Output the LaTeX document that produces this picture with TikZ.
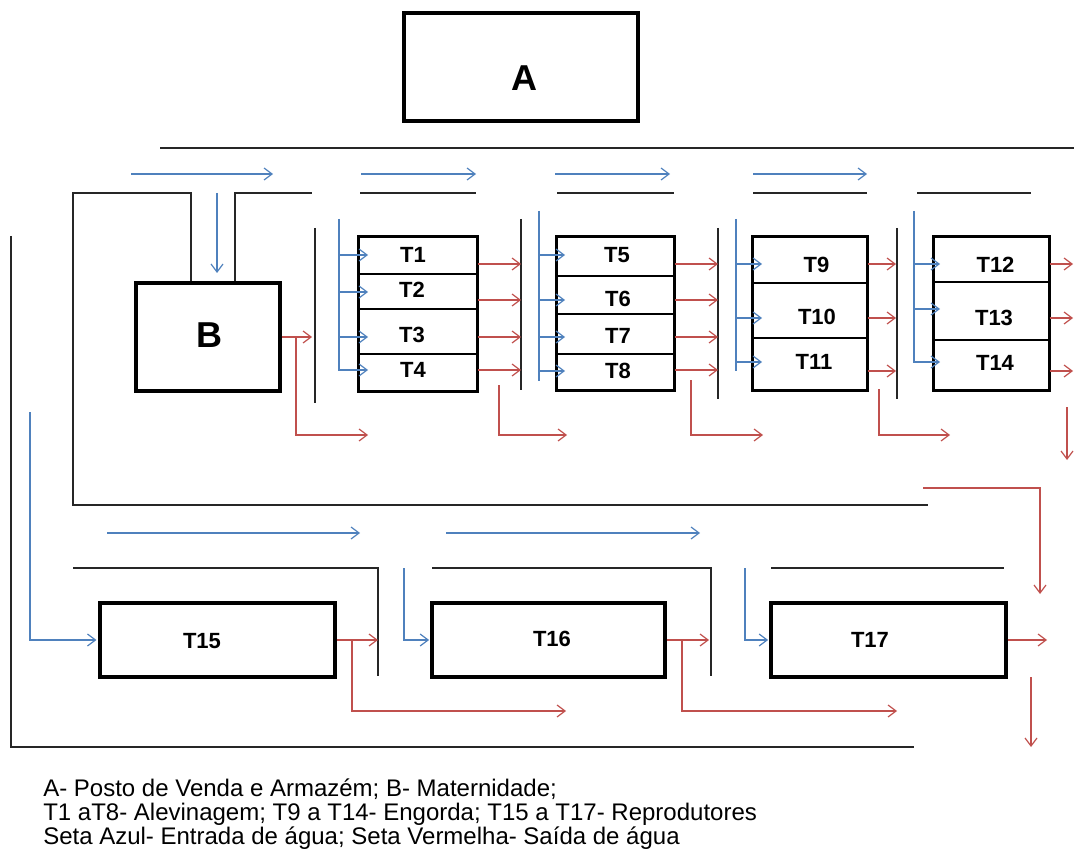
\documentclass[tikz,border=0pt]{standalone}
\usepackage{fontspec}
\setmainfont{Liberation Sans}
\newfontfamily\capfont{Liberation Sans}
\usetikzlibrary{arrows.meta,fit}
\definecolor{blueC}{HTML}{4F81BD}
\definecolor{redC}{HTML}{C0504D}
\tikzset{
  wall/.style={draw=black!85, line width=0.95pt},
  inpipe/.style={draw=blueC, line width=0.9pt},
  inflow/.style={draw=blueC, line width=0.9pt, -{Straight Barb[length=6pt,width=9pt]}},
  outflow/.style={draw=redC, line width=0.9pt, -{Straight Barb[length=6pt,width=9pt]}},
  tank/.style={draw, line width=0.8pt, inner sep=0pt},
  bigbox/.style={draw, line width=2.3pt, inner sep=0pt},
  lab/.style={font=\bfseries\fontsize{16.5}{18}\selectfont, inner sep=0pt},
  biglab/.style={font=\bfseries\fontsize{27}{30}\selectfont, inner sep=0pt},
  captxt/.style={font=\capfont\fontsize{18}{19}\selectfont, inner sep=0pt, anchor=base west},
}
\begin{document}
\begin{tikzpicture}[x=0.75pt,y=-0.75pt]
\useasboundingbox (0,0) rectangle (1074,852);

% ---------- main boxes ----------
\node[bigbox, fit={(404,13) (638,121)}] (A) {};
\node[biglab] (Alab) at (524,78) {A};
\node[bigbox, fit={(136,283) (280,391)}] (B) {};
\node[biglab] (Blab) at (209,335) {B};

% ---------- tanks T1-T4 ----------
\node[tank, fit={(359,237) (477,274)}] (T1) {};
\node[tank, fit={(359,274) (477,309)}] (T2) {};
\node[tank, fit={(359,309) (477,354)}] (T3) {};
\node[tank, fit={(359,354) (477,391)}] (T4) {};
\node[bigbox, fit=(T1)(T4)] (G1) {};
\node[lab] (l1) at (413,255) {T1};
\node[lab] (l2) at (412,290) {T2};
\node[lab] (l3) at (412,334.5) {T3};
\node[lab] (l4) at (413,370) {T4};

% ---------- tanks T5-T8 ----------
\node[tank, fit={(557,237) (674,276)}] (T5) {};
\node[tank, fit={(557,276) (674,314)}] (T6) {};
\node[tank, fit={(557,314) (674,354)}] (T7) {};
\node[tank, fit={(557,354) (674,390)}] (T8) {};
\node[bigbox, fit=(T5)(T8)] (G2) {};
\node[lab] (l5) at (617,255) {T5};
\node[lab] (l6) at (618,298.5) {T6};
\node[lab] (l7) at (618,335.5) {T7};
\node[lab] (l8) at (618,371) {T8};

% ---------- tanks T9-T11 ----------
\node[tank, fit={(753,237) (867,283)}] (T9) {};
\node[tank, fit={(753,283) (867,338)}] (T10) {};
\node[tank, fit={(753,338) (867,390)}] (T11) {};
\node[bigbox, fit=(T9)(T11)] (G3) {};
\node[lab] (l9) at (816.5,265) {T9};
\node[lab] (l10) at (817,316.5) {T10};
\node[lab] (l11) at (814,362) {T11};

% ---------- tanks T12-T14 ----------
\node[tank, fit={(934,237) (1049,282)}] (T12) {};
\node[tank, fit={(934,282) (1049,340)}] (T13) {};
\node[tank, fit={(934,340) (1049,390)}] (T14) {};
\node[bigbox, fit=(T12)(T14)] (G4) {};
\node[lab] (l12) at (995.5,265) {T12};
\node[lab] (l13) at (994,318) {T13};
\node[lab] (l14) at (995,363) {T14};

% ---------- bottom tanks ----------
\node[bigbox, fit={(100,603) (335,677)}] (T15) {};
\node[lab] (l15) at (202,641) {T15};
\node[bigbox, fit={(432,603) (665,677)}] (T16) {};
\node[lab] (l16) at (552,639) {T16};
\node[bigbox, fit={(771,603) (1006,677)}] (T17) {};
\node[lab] (l17) at (870,640) {T17};

% ---------- walls (black lines) ----------
\draw[wall] (160,148) -- (1074,148);
\draw[wall] (191,193 |- B.north) -- (191,193) -- (73,193) -- (73,505) -- (928,505);
\draw[wall] (235,193 |- B.north) -- (235,193) -- (312,193);
\draw[wall] (360,193) -- (476,193);
\draw[wall] (557,193) -- (674,193);
\draw[wall] (753,193) -- (867,193);
\draw[wall] (917,193) -- (1031,193);
\draw[wall] (315,228) -- (315,403);
\draw[wall] (521,219) -- (521,390);
\draw[wall] (718,228) -- (718,399);
\draw[wall] (897,228) -- (897,399);
\draw[wall] (11,236) -- (11,747) -- (914,747);
\draw[wall] (73,568) -- (378,568) -- (378,676);
\draw[wall] (432,568) -- (711,568) -- (711,676);
\draw[wall] (771,568) -- (1004,568);

% ---------- blue: water inlet ----------
\draw[inflow] (131,174) -- (273,174);
\draw[inflow] (361,174) -- (476,174);
\draw[inflow] (555,174) -- (670,174);
\draw[inflow] (753,174) -- (867,174);
\draw[inflow] (217,193) -- (217,273);
\draw[inflow] (107,533) -- (360,533);
\draw[inflow] (446,533) -- (700,533);

\draw[inpipe] (339,219) -- (339,371);
\foreach \y in {255,292,337,370} \draw[inflow] (339,\y) -- (368,\y);
\draw[inpipe] (539,211) -- (539,381);
\foreach \y in {255,300,337,371} \draw[inflow] (539,\y) -- (565,\y);
\draw[inpipe] (736,219) -- (736,371);
\foreach \y in {264,318,362} \draw[inflow] (736,\y) -- (762,\y);
\draw[inpipe] (914,211) -- (914,363);
\foreach \y in {264,309,362} \draw[inflow] (914,\y) -- (940,\y);

\draw[inflow] (30,412) |- ([xshift=-1.5pt]T15.west);
\draw[inflow] (404,568) |- ([xshift=-1pt]T16.west);
\draw[inflow] (745,568) |- ([xshift=-1pt]T17.west);

% ---------- red: water outlet ----------
\draw[outflow] (B.east) -- (312,337);
\draw[outflow] (296,337) |- (368,435);

\draw[outflow] (T1.east |- 0,264) -- (521,264);
\draw[outflow] (T2.east |- 0,300) -- (521,300);
\draw[outflow] (T3.east |- 0,337) -- (521,337);
\draw[outflow] (T4.east |- 0,370) -- (521,370);
\draw[outflow] (499,385) |- (567,435);

\draw[outflow] (T5.east |- 0,264) -- (718,264);
\draw[outflow] (T6.east |- 0,300) -- (718,300);
\draw[outflow] (T7.east |- 0,337) -- (718,337);
\draw[outflow] (T8.east |- 0,370) -- (718,370);
\draw[outflow] (691,380) |- (763,435);

\draw[outflow] (T9.east |- 0,264) -- (896,264);
\draw[outflow] (T10.east |- 0,318) -- (896,318);
\draw[outflow] (T11.east |- 0,371) -- (896,371);
\draw[outflow] (879,389) |- (950,435);

\draw[outflow] (T12.east |- 0,264) -- (1073,264);
\draw[outflow] (T13.east |- 0,318) -- (1073,318);
\draw[outflow] (T14.east |- 0,371) -- (1073,371);
\draw[outflow] (1067,407) -- (1067,460);

\draw[outflow] (923,488) -| (1040,594);

\draw[outflow] (T15.east) -- (378,640);
\draw[outflow] (352,640) |- (566,711);
\draw[outflow] (T16.east) -- (709,640);
\draw[outflow] (682,640) |- (897,711);
\draw[outflow] (T17.east) -- (1047,640);
\draw[outflow] (1031,677) -- (1031,747);

% ---------- caption ----------
\node[captxt] (c1) at (43,796) {A- Posto de Venda e Armazém; B- Maternidade;};
\node[captxt] (c2) at (43,820) {T1 aT8- Alevinagem; T9 a T14- Engorda; T15 a T17- Reprodutores};
\node[captxt] (c3) at (43,844) {Seta Azul- Entrada de água; Seta Vermelha- Saída de água};
\end{tikzpicture}
\end{document}
